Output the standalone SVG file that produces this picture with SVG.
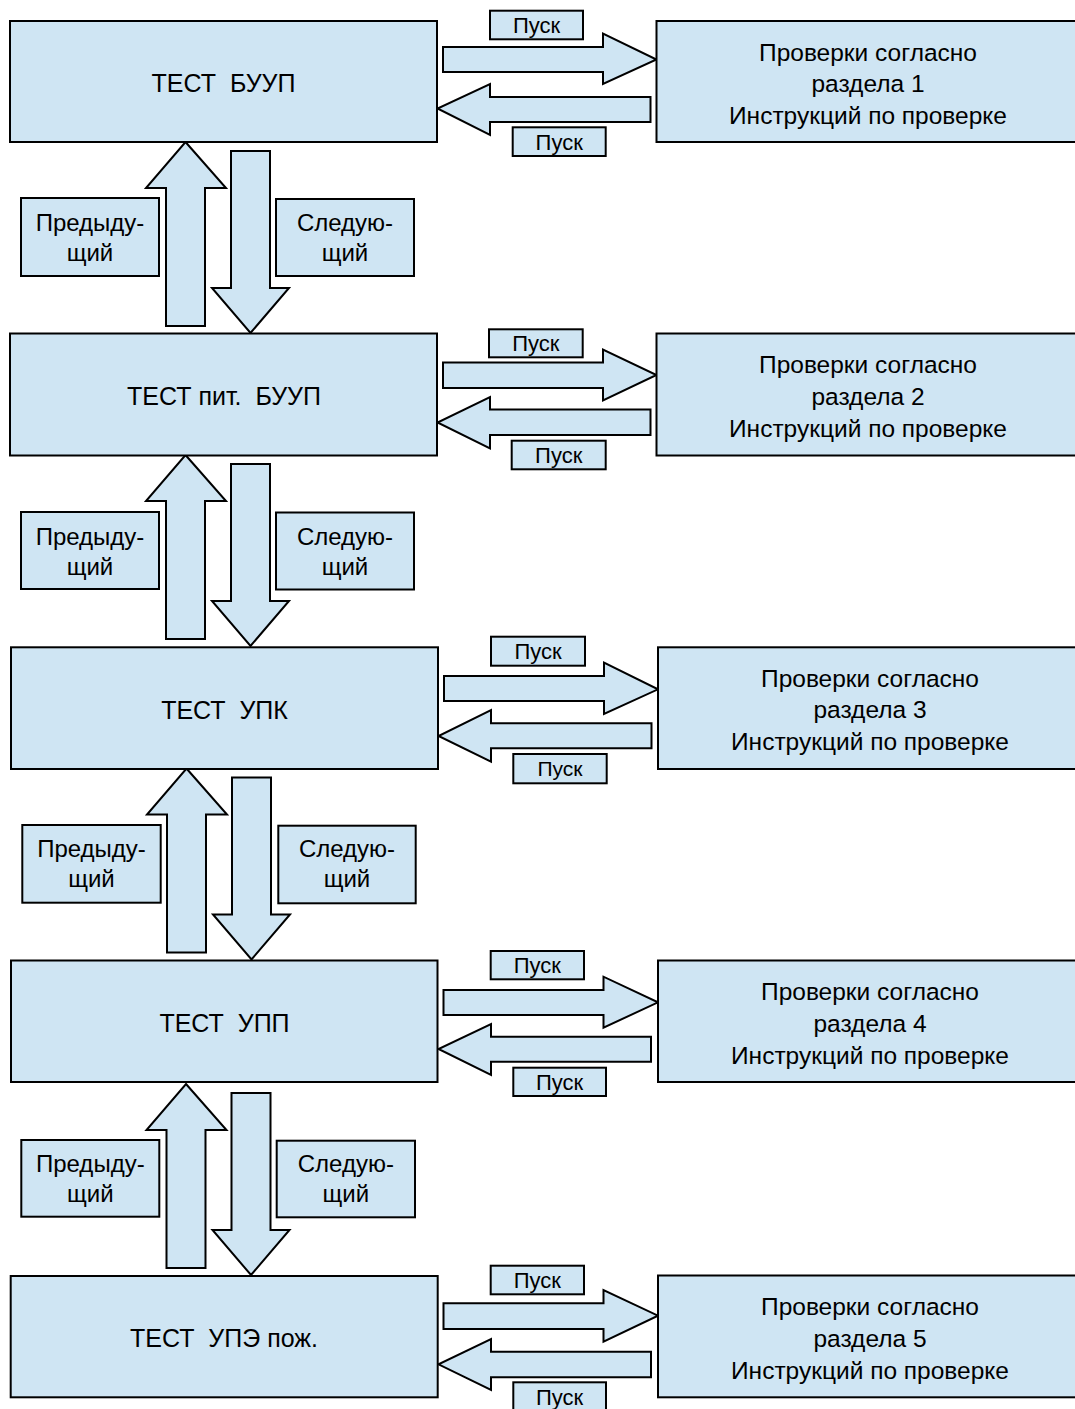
<svg xmlns="http://www.w3.org/2000/svg" width="1075" height="1409" viewBox="0 0 1075 1409">
<style>
.b{fill:#cfe5f3;stroke:#000;stroke-width:2}
.a{fill:#cfe5f3;stroke:#000;stroke-width:2;stroke-linejoin:miter}
text{font-family:"Liberation Sans",Arial,sans-serif;fill:#000;text-anchor:middle;white-space:pre}
.t{font-size:25px}
.r{font-size:24.5px}
.s{font-size:24px}
.p{font-size:22px}
</style>
<rect width="1075" height="1409" fill="#fff"/>
<g id="connectors">
<polygon class="a" points="443,47 603,47 603,33.5 656.5,59.5 603,84 603,72 443,72"/>
<polygon class="a" points="650.5,97 490,97 490,84 437.5,108.5 490,135 490,122 650.5,122"/>
<polygon class="a" points="443,362.5 603,362.5 603,349.5 656.5,375 603,400.5 603,388 443,388"/>
<polygon class="a" points="650.5,409.5 490,409.5 490,397 437.5,422.5 490,448.5 490,435 650.5,435"/>
<polygon class="a" points="444,676 604,676 604,662.5 658,689.3 604,714 604,701 444,701"/>
<polygon class="a" points="651.5,723.3 491,723.3 491,710 438.5,736 491,761.7 491,748.3 651.5,748.3"/>
<polygon class="a" points="443.5,990 603.5,990 603.5,976.7 658,1002.3 603.5,1027.7 603.5,1015 443.5,1015"/>
<polygon class="a" points="651,1036.7 491,1036.7 491,1024 438.5,1049 491,1075 491,1061.7 651,1061.7"/>
<polygon class="a" points="443.5,1303.3 603.5,1303.3 603.5,1290 658,1315.7 603.5,1341.7 603.5,1329 443.5,1329"/>
<polygon class="a" points="651,1351.7 491,1351.7 491,1339 438.5,1364.3 491,1390 491,1377.3 651,1377.3"/>
<g transform="translate(0,0)">
<polygon class="a" points="185.5,142 226,188 205,188 205,326 166,326 166,188 146,188"/>
<polygon class="a" points="231,151 270,151 270,288 289,288 250.5,333 212,288 231,288"/>
</g>
<g transform="translate(0,313)">
<polygon class="a" points="185.5,142 226,188 205,188 205,326 166,326 166,188 146,188"/>
<polygon class="a" points="231,151 270,151 270,288 289,288 250.5,333 212,288 231,288"/>
</g>
<g transform="translate(1,626.5)">
<polygon class="a" points="185.5,142 226,188 205,188 205,326 166,326 166,188 146,188"/>
<polygon class="a" points="231,151 270,151 270,288 289,288 250.5,333 212,288 231,288"/>
</g>
<g transform="translate(0.5,942)">
<polygon class="a" points="185.5,142 226,188 205,188 205,326 166,326 166,188 146,188"/>
<polygon class="a" points="231,151 270,151 270,288 289,288 250.5,333 212,288 231,288"/>
</g>
</g>
<g id="test1"><rect class="b" x="10" y="21" width="427" height="121"/><text class="t" x="223.5" y="92">ТЕСТ  БУУП</text></g>
<g id="check1"><rect class="b" x="656.5" y="21" width="430" height="121"/><text class="r" x="868" y="60.5">Проверки согласно</text><text class="r" x="868" y="92">раздела 1</text><text class="r" x="868" y="124">Инструкций по проверке</text></g>
<g id="start1a"><rect class="b" x="490" y="10.7" width="93" height="28.6"/><text class="p" x="536.5" y="33">Пуск</text></g>
<g id="start1b"><rect class="b" x="512.7" y="127.3" width="93" height="28.7"/><text class="p" x="559.2" y="149.6">Пуск</text></g>
<g id="prev1"><rect class="b" x="21" y="198" width="138" height="78"/><text class="s" x="90" y="231">Предыду-</text><text class="s" x="90" y="261">щий</text></g>
<g id="next1"><rect class="b" x="276" y="199" width="138" height="77"/><text class="s" x="345" y="231">Следую-</text><text class="s" x="345" y="261">щий</text></g>

<g id="test2"><rect class="b" x="10" y="333.5" width="427" height="122"/><text class="t" x="224" y="405">ТЕСТ пит.  БУУП</text></g>
<g id="check2"><rect class="b" x="656.5" y="333.5" width="430" height="122"/><text class="r" x="868" y="373">Проверки согласно</text><text class="r" x="868" y="404.5">раздела 2</text><text class="r" x="868" y="436.5">Инструкций по проверке</text></g>
<g id="start2a"><rect class="b" x="489" y="329.3" width="93.7" height="28"/><text class="p" x="535.8" y="351.3">Пуск</text></g>
<g id="start2b"><rect class="b" x="511.7" y="440.7" width="94" height="28.6"/><text class="p" x="558.7" y="463">Пуск</text></g>
<g id="prev2"><rect class="b" x="21" y="512" width="138" height="77"/><text class="s" x="90" y="545">Предыду-</text><text class="s" x="90" y="575">щий</text></g>
<g id="next2"><rect class="b" x="276" y="512.5" width="138" height="77"/><text class="s" x="345" y="545">Следую-</text><text class="s" x="345" y="575">щий</text></g>

<g id="test3"><rect class="b" x="11" y="647.3" width="427" height="121.7"/><text class="t" x="224.5" y="718.5">ТЕСТ  УПК</text></g>
<g id="check3"><rect class="b" x="658" y="647.3" width="430" height="121.7"/><text class="r" x="870" y="687">Проверки согласно</text><text class="r" x="870" y="718">раздела 3</text><text class="r" x="870" y="750">Инструкций по проверке</text></g>
<g id="start3a"><rect class="b" x="491" y="636.7" width="94" height="29"/><text class="p" x="538" y="659.2">Пуск</text></g>
<g id="start3b"><rect class="b" x="513.3" y="754" width="93.4" height="29.3"/><text class="p" x="560" y="776.3" style="font-size:21px">Пуск</text></g>
<g id="prev3"><rect class="b" x="22.3" y="825" width="138.4" height="77.7"/><text class="s" x="91.5" y="857">Предыду-</text><text class="s" x="91.5" y="887">щий</text></g>
<g id="next3"><rect class="b" x="278.3" y="825.7" width="137.4" height="77.6"/><text class="s" x="347" y="857">Следую-</text><text class="s" x="347" y="887">щий</text></g>

<g id="test4"><rect class="b" x="11" y="960.5" width="426.5" height="121.5"/><text class="t" x="224.5" y="1031.5">ТЕСТ  УПП</text></g>
<g id="check4"><rect class="b" x="658" y="960.5" width="430" height="121.5"/><text class="r" x="870" y="1000">Проверки согласно</text><text class="r" x="870" y="1031.5">раздела 4</text><text class="r" x="870" y="1063.5">Инструкций по проверке</text></g>
<g id="start4a"><rect class="b" x="490.7" y="951" width="93.3" height="28.3"/><text class="p" x="537.3" y="973.2">Пуск</text></g>
<g id="start4b"><rect class="b" x="513.3" y="1067.7" width="92.7" height="28.3"/><text class="p" x="559.6" y="1089.8">Пуск</text></g>
<g id="prev4"><rect class="b" x="21.3" y="1140" width="138" height="76.7"/><text class="s" x="90.3" y="1172">Предыду-</text><text class="s" x="90.3" y="1202">щий</text></g>
<g id="next4"><rect class="b" x="276.7" y="1140.7" width="138.3" height="76.6"/><text class="s" x="345.8" y="1172">Следую-</text><text class="s" x="345.8" y="1202">щий</text></g>

<g id="test5"><rect class="b" x="10.7" y="1276" width="427" height="121.3"/><text class="t" x="224" y="1347">ТЕСТ  УПЭ пож.</text></g>
<g id="check5"><rect class="b" x="658" y="1275.5" width="430" height="121.8"/><text class="r" x="870" y="1315">Проверки согласно</text><text class="r" x="870" y="1346.5">раздела 5</text><text class="r" x="870" y="1378.5">Инструкций по проверке</text></g>
<g id="start5a"><rect class="b" x="490.7" y="1265.7" width="93.3" height="28.6"/><text class="p" x="537.3" y="1288">Пуск</text></g>
<g id="start5b"><rect class="b" x="513.3" y="1382.3" width="92.7" height="28.5"/><text class="p" x="559.6" y="1404.5">Пуск</text></g>
</svg>
